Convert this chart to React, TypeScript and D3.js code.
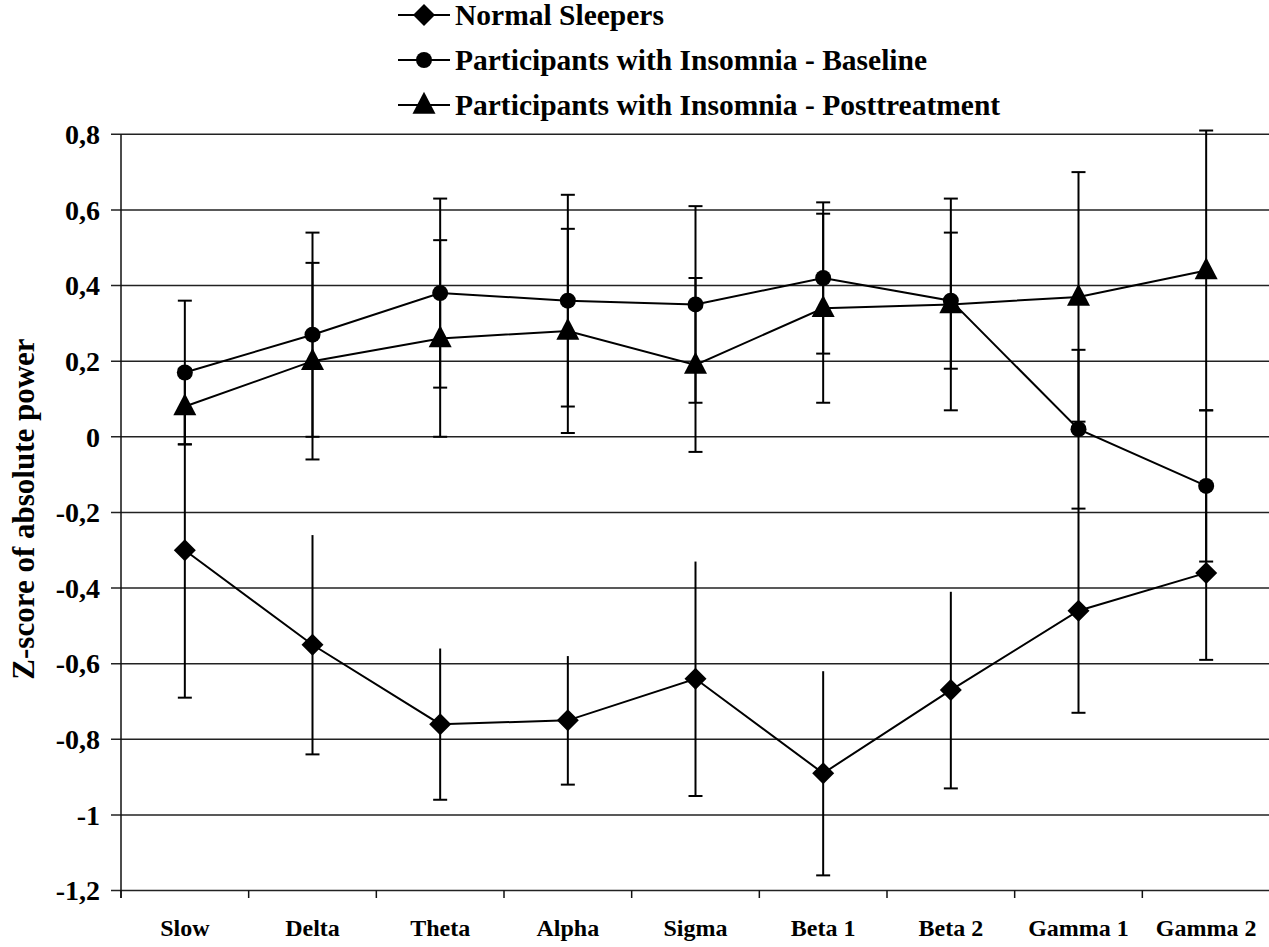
import React from "react";
import * as d3 from "d3";

const categories = ["Slow", "Delta", "Theta", "Alpha", "Sigma", "Beta 1", "Beta 2", "Gamma 1", "Gamma 2"];
const yTicks = [0.8, 0.6, 0.4, 0.2, 0, -0.2, -0.4, -0.6, -0.8, -1, -1.2];

const normalMean = [-0.30, -0.55, -0.76, -0.75, -0.64, -0.89, -0.67, -0.46, -0.36];
const normalSd = [0.39, 0.29, 0.20, 0.17, 0.31, 0.27, 0.26, 0.27, 0.23];
const baselineMean = [0.17, 0.27, 0.38, 0.36, 0.35, 0.42, 0.36, 0.02, -0.13];
const baselineSd = [0.19, 0.27, 0.25, 0.28, 0.26, 0.20, 0.18, 0.21, 0.20];
const postMean = [0.08, 0.20, 0.26, 0.28, 0.19, 0.34, 0.35, 0.37, 0.44];
const postSd = [0.10, 0.26, 0.26, 0.27, 0.23, 0.25, 0.28, 0.33, 0.37];

const seriesNames = [
  "Normal Sleepers",
  "Participants with Insomnia - Baseline",
  "Participants with Insomnia - Posttreatment",
];

const FONT = "'Liberation Serif', Tinos, 'Times New Roman', Times, 'DejaVu Serif', 'Noto Serif', serif";
const W = 1269;
const H = 947;

type Shape = "diamond" | "circle" | "triangle";

function Marker({ shape, x, y }: { shape: Shape; x: number; y: number }) {
  if (shape === "circle") return <circle cx={x} cy={y} r={8} fill="#000" />;
  if (shape === "diamond") {
    const s = 11;
    return <path d={`M${x},${y - s}L${x + s},${y}L${x},${y + s}L${x - s},${y}Z`} fill="#000" />;
  }
  const h = 22;
  const w = 23;
  return <path d={`M${x},${y - h * 0.6}L${x + w / 2},${y + h * 0.4}L${x - w / 2},${y + h * 0.4}Z`} fill="#000" />;
}

export default function App() {
  const x = d3.scaleBand<string>().domain(categories).range([121, 1270]);
  const y = d3.scaleLinear().domain([-1.2, 0.8]).range([890.5, 134.3]);
  const cx = (c: string) => (x(c) as number) + x.bandwidth() / 2;

  const series: { name: string; shape: Shape; mean: number[]; sd: number[]; capTop: boolean }[] = [
    { name: seriesNames[0], shape: "diamond", mean: normalMean, sd: normalSd, capTop: false },
    { name: seriesNames[1], shape: "circle", mean: baselineMean, sd: baselineSd, capTop: true },
    { name: seriesNames[2], shape: "triangle", mean: postMean, sd: postSd, capTop: true },
  ];

  const line = d3
    .line<number>()
    .x((_, i) => cx(categories[i]))
    .y((d) => y(d));

  const boundaries = categories.map((c) => x(c) as number).concat([x.range()[1]]);
  const cap = 7;
  const txt = (size: number) => ({ fontFamily: FONT, fontWeight: 700, fontSize: size });

  return (
    <div style={{ position: "absolute", left: 0, top: 0, fontFamily: FONT }}>
      <svg width={W} height={H} style={{ display: "block", background: "#fff", fontFamily: FONT }}>
        <rect x={0} y={0} width={W} height={H} fill="#fff" />
        {yTicks.map((t) => (
          <line key={t} x1={111} x2={W} y1={y(t)} y2={y(t)} stroke="#222" strokeWidth={1.5} />
        ))}
        <line x1={121} x2={121} y1={y(0.8)} y2={898} stroke="#111" strokeWidth={1.5} />
        {boundaries.map((b, i) => (
          <line key={i} x1={b} x2={b} y1={y(-1.2)} y2={898} stroke="#111" strokeWidth={1.5} />
        ))}
        {yTicks.map((t) => (
          <text key={t} x={100} y={y(t)} dy="0.35em" textAnchor="end" style={txt(28)}>
            {String(t).replace(".", ",")}
          </text>
        ))}
        {categories.map((c) => (
          <text key={c} x={cx(c)} y={936} textAnchor="middle" style={txt(24)}>
            {c}
          </text>
        ))}
        <text transform={`translate(34,509) rotate(-90)`} textAnchor="middle" style={txt(31)}>
          Z-score of absolute power
        </text>
        {series.map((s) =>
          s.mean.map((m, i) => {
            const px = cx(categories[i]);
            const top = y(m + s.sd[i]);
            const bot = y(m - s.sd[i]);
            return (
              <g key={s.name + i} stroke="#000" strokeWidth={2}>
                <line x1={px} x2={px} y1={top} y2={bot} />
                {s.capTop && <line x1={px - cap} x2={px + cap} y1={top} y2={top} />}
                <line x1={px - cap} x2={px + cap} y1={bot} y2={bot} />
              </g>
            );
          })
        )}
        {series.map((s) => (
          <path key={s.name} d={line(s.mean) || ""} fill="none" stroke="#000" strokeWidth={2} />
        ))}
        {series.map((s) =>
          s.mean.map((m, i) => <Marker key={s.name + "m" + i} shape={s.shape} x={cx(categories[i])} y={y(m)} />)
        )}
        {series.map((s, i) => {
          const ly = 15 + i * 45;
          return (
            <g key={s.name + "leg"}>
              <line x1={398} x2={450} y1={ly} y2={ly} stroke="#000" strokeWidth={2} />
              <Marker shape={s.shape} x={424} y={ly} />
              <text x={455} y={ly} dy="0.33em" style={txt(29.5)}>
                {s.name}
              </text>
            </g>
          );
        })}
      </svg>
    </div>
  );
}
